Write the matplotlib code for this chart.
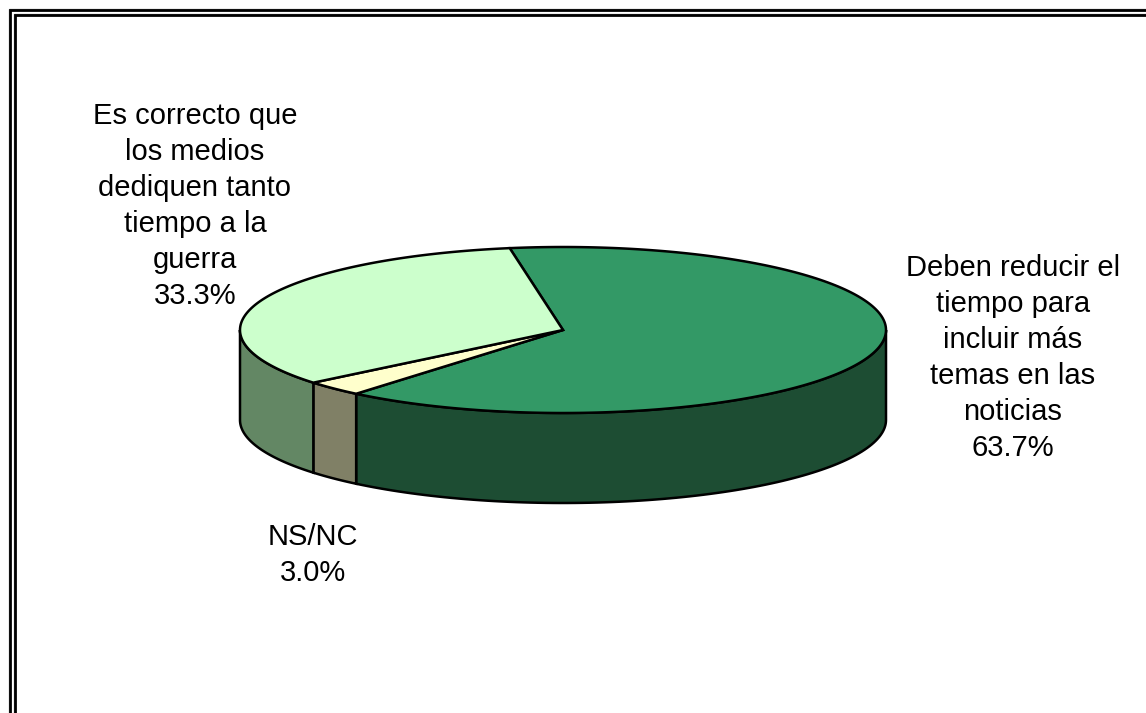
import numpy as np
import matplotlib.pyplot as plt
from matplotlib.patches import Polygon

labels = ["Deben reducir el\ntiempo para\nincluir más\ntemas en las\nnoticias",
          "NS/NC",
          "Es correcto que\nlos medios\ndediquen tanto\ntiempo a la\nguerra"]
values = [63.7, 3.0, 33.3]
top_colors = ['#339966', '#FFFFCC', '#CCFFCC']
side_colors = ['#1D4D33', '#808066', '#638764']

plt.rcParams['font.family'] = ['Liberation Sans', 'DejaVu Sans']

W, H = 1146, 713
fig = plt.figure(figsize=(W / 100, H / 100), dpi=100)
ax = fig.add_axes([0, 0, 1, 1])
ax.set_xlim(0, W)
ax.set_ylim(H, 0)
ax.axis('off')

# frame (double line, cut at right/bottom)
for off, col, lw in [(8.5, '#999999', 1.0), (10, 'black', 2.0), (13.5, '#999999', 1.0), (15, 'black', 2.0)]:
    ax.plot([off, off, W + 20], [H + 20, off, off], color=col, lw=lw, solid_joinstyle='miter')

# 3d pie geometry (pixels)
cx, cy, a, b, depth = 563, 330, 323, 83, 90
start = 99.5

def pt(t, dy=0):
    r = np.radians(t)
    return cx + a * np.cos(r), cy - b * np.sin(r) + dy

fr = np.array(values) / sum(values)
bounds = start - 360 * np.concatenate([[0], np.cumsum(fr)])

# side walls (front half only)
for i in range(len(values)):
    t1, t2 = bounds[i + 1], bounds[i]
    for k in range(-2, 2):
        lo, hi = max(t1, 180 + 360 * k), min(t2, 360 + 360 * k)
        if hi - lo <= 0:
            continue
        ts = np.linspace(lo, hi, 100)
        top = [pt(t) for t in ts]
        bot = [pt(t, depth) for t in ts[::-1]]
        ax.add_patch(Polygon(top + bot, closed=True, fc=side_colors[i], ec='black', lw=1.8))

# tops
for i in range(len(values)):
    ts = np.linspace(bounds[i + 1], bounds[i], 200)
    poly = [(cx, cy)] + [pt(t) for t in ts]
    ax.add_patch(Polygon(poly, closed=True, fc=top_colors[i], ec='black', lw=1.8,
                         joinstyle='miter'))

# labels
pos = [(1013, 358), (313, 555), (195, 206)]
for lab, v, (x, y) in zip(labels, values, pos):
    ax.text(x, y, f"{lab}\n{v:.1f}%", ha='center', va='center', fontsize=21,
            linespacing=1.37, color='black')

fig.savefig('out.png', dpi=100)
